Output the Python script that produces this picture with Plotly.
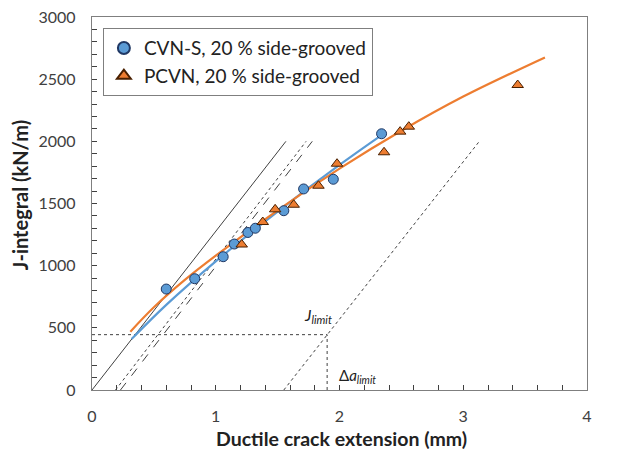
import plotly.graph_objects as go

# CVN-S, 20 % side-grooved (blue circles)
cvn_x = [0.60, 0.83, 1.06, 1.15, 1.26, 1.32, 1.55, 1.71, 1.95, 2.34]
cvn_j = [812, 895, 1072, 1174, 1267, 1301, 1442, 1617, 1695, 2061]

# PCVN, 20 % side-grooved (orange triangles)
pcvn_x = [1.21, 1.38, 1.48, 1.63, 1.83, 1.98, 2.36, 2.49, 2.56, 3.44]
pcvn_j = [1170, 1351, 1453, 1490, 1643, 1820, 1912, 2078, 2118, 2453]

# fitted curves
cvn_fit_x = [0.32, 0.6, 1.0, 1.5, 2.0, 2.34]
cvn_fit_j = [410, 685, 1035, 1435, 1810, 2050]
pcvn_fit_x = [0.31, 0.5, 0.75, 1.0, 1.5, 2.0, 2.5, 3.0, 3.66]
pcvn_fit_j = [469, 665, 885, 1080, 1445, 1780, 2085, 2360, 2675]

# construction lines
blunt_x = [0.0, 1.567]
blunt_j = [0, 2000]
excl1_x = [0.19, 1.73]
excl1_j = [0, 2000]
offs_x = [0.23, 1.78]
offs_j = [0, 2000]
excl2_x = [1.55, 3.13]
excl2_j = [0, 2000]
jlim_x = [0, 1.90]
jlim_j = [445, 445]
dalim_x = [1.90, 1.90]
dalim_j = [0, 445]

BLUE = "#5B9BD5"
ORANGE = "#ED7D31"
FONT = "Lato"

fig = go.Figure()

def line(x, y, color, width, dash, shape="linear"):
    fig.add_trace(go.Scatter(x=x, y=y, mode="lines", showlegend=False,
                             line=dict(color=color, width=width, dash=dash, shape=shape),
                             hoverinfo="skip"))

line(blunt_x, blunt_j, "#404040", 1, "solid")
line(excl1_x, excl1_j, "#404040", 1, "dot")
line(offs_x, offs_j, "#404040", 1, "dash")
line(excl2_x, excl2_j, "#404040", 1, "dot")
line(jlim_x, jlim_j, "#404040", 1, "dot")
line(dalim_x, dalim_j, "#404040", 1, "dot")

line(cvn_fit_x, cvn_fit_j, BLUE, 2.2, "solid", "spline")
line(pcvn_fit_x, pcvn_fit_j, ORANGE, 2.2, "solid", "spline")

fig.add_trace(go.Scatter(x=cvn_x, y=cvn_j, mode="markers",
                         name="CVN-S, 20 % side-grooved",
                         marker=dict(symbol="circle", size=10, color=BLUE,
                                     line=dict(color="#203864", width=1))))
fig.add_trace(go.Scatter(x=pcvn_x, y=pcvn_j, mode="markers",
                         name="PCVN, 20 % side-grooved",
                         marker=dict(symbol="triangle-up", size=10, color=ORANGE,
                                     line=dict(color="#4a2000", width=1))))

fig.add_annotation(x=1.70, y=600, text="<i>J</i><sub><i>limit</i></sub>",
                   showarrow=False, xanchor="left", yanchor="middle",
                   font=dict(family=FONT, size=16, color="#222"))
fig.add_annotation(x=1.98, y=110, text="Δ<i>a</i><sub><i>limit</i></sub>",
                   showarrow=False, xanchor="left", yanchor="middle",
                   font=dict(family=FONT, size=15, color="#222"))

# axis titles as annotations
fig.add_annotation(xref="paper", yref="paper", x=0.505, y=-0.13,
                   text="<b>Ductile crack extension (mm)</b>", showarrow=False,
                   xanchor="center", yanchor="middle",
                   font=dict(family=FONT, size=19.5, color="#222"))
fig.add_annotation(xref="paper", yref="paper", x=-0.145, y=0.523,
                   text="<b>J-integral (kN/m)</b>", showarrow=False, textangle=-90,
                   xanchor="center", yanchor="middle",
                   font=dict(family=FONT, size=20, color="#222"))

axis_common = dict(showline=True, linecolor="#7f7f7f", linewidth=1.3, mirror=True,
                   ticks="inside", ticklen=5, tickcolor="#404040", showgrid=False,
                   zeroline=False, automargin=False, ticklabeloverflow="allow",
                   tickfont=dict(family=FONT, size=16, color="#404040"))

fig.update_xaxes(range=[0, 4], dtick=1, tick0=0, ticklabelstandoff=12,
                 minor=dict(dtick=0.2, ticks="inside", ticklen=5, tickcolor="#404040"),
                 **axis_common)
fig.update_yaxes(range=[0, 3000], dtick=500, tick0=0, ticklabelstandoff=12,
                 minor=dict(dtick=100, ticks="inside", ticklen=5, tickcolor="#404040"),
                 **axis_common)

# the page draws the figure 8 px in from the top-left corner
fig.update_layout(
    width=626, height=458,
    margin=dict(l=84, r=47, t=9, b=76),
    plot_bgcolor="white", paper_bgcolor="white",
    font=dict(family=FONT),
    legend=dict(x=0.022, y=0.97, xanchor="left", yanchor="top",
                bgcolor="white", bordercolor="#7f7f7f", borderwidth=1,
                font=dict(family=FONT, size=19, color="#222"),
                itemsizing="constant", tracegroupgap=0),
)

fig.write_html("out.html")
